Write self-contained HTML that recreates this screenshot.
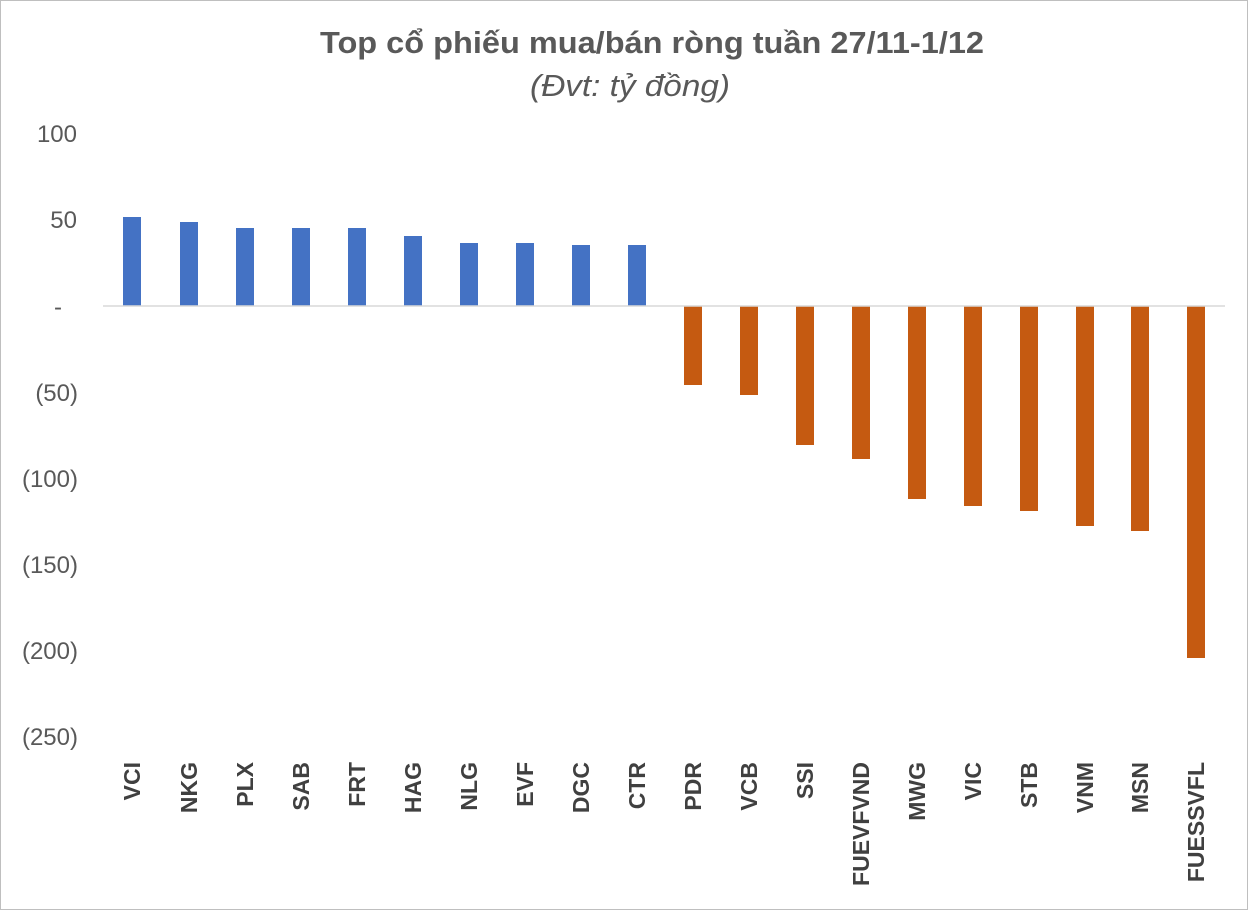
<!DOCTYPE html>
<html><head><meta charset="utf-8"><style>
html,body{margin:0;padding:0;background:#fff;}
</style></head><body>
<svg width="1248" height="910" xmlns="http://www.w3.org/2000/svg" font-family="Liberation Sans, sans-serif">
<rect x="0.5" y="0.5" width="1247" height="909" fill="#fff" stroke="#bfbfbf"/>
<text x="652" y="53" text-anchor="middle" font-size="31" font-weight="bold" fill="#595959" textLength="664" lengthAdjust="spacingAndGlyphs">Top cổ phiếu mua/bán ròng tuần 27/11-1/12</text>
<text x="630" y="96" text-anchor="middle" font-size="31" font-style="italic" fill="#595959" textLength="200" lengthAdjust="spacingAndGlyphs">(Đvt: tỷ đồng)</text>
<g font-size="24" fill="#595959" text-anchor="end">
<text x="77" y="142">100</text>
<text x="77" y="228">50</text>
<text x="62" y="315">-</text>
<text x="78" y="401">(50)</text>
<text x="78" y="487">(100)</text>
<text x="78" y="573">(150)</text>
<text x="78" y="659">(200)</text>
<text x="78" y="745">(250)</text>
</g>
<g fill="#4472C4">
<rect x="123" y="217" width="18" height="89"/>
<rect x="180" y="222" width="18" height="84"/>
<rect x="236" y="228" width="18" height="78"/>
<rect x="292" y="228" width="18" height="78"/>
<rect x="348" y="228" width="18" height="78"/>
<rect x="404" y="236" width="18" height="70"/>
<rect x="460" y="243" width="18" height="63"/>
<rect x="516" y="243" width="18" height="63"/>
<rect x="572" y="245" width="18" height="61"/>
<rect x="628" y="245" width="18" height="61"/>
</g>
<g fill="#C55A11">
<rect x="684" y="306" width="18" height="79"/>
<rect x="740" y="306" width="18" height="89"/>
<rect x="796" y="306" width="18" height="139"/>
<rect x="852" y="306" width="18" height="153"/>
<rect x="908" y="306" width="18" height="193"/>
<rect x="964" y="306" width="18" height="200"/>
<rect x="1020" y="306" width="18" height="205"/>
<rect x="1076" y="306" width="18" height="220"/>
<rect x="1131" y="306" width="18" height="225"/>
<rect x="1187" y="306" width="18" height="352"/>
</g>
<line x1="103" y1="306" x2="1225" y2="306" stroke="#d9d9d9" stroke-width="1.5"/>
<g font-size="23" font-weight="bold" fill="#404040" text-anchor="end">
<text transform="translate(140,762) rotate(-90)">VCI</text>
<text transform="translate(197,762) rotate(-90)">NKG</text>
<text transform="translate(253,762) rotate(-90)">PLX</text>
<text transform="translate(309,762) rotate(-90)">SAB</text>
<text transform="translate(365,762) rotate(-90)">FRT</text>
<text transform="translate(421,762) rotate(-90)">HAG</text>
<text transform="translate(477,762) rotate(-90)">NLG</text>
<text transform="translate(533,762) rotate(-90)">EVF</text>
<text transform="translate(589,762) rotate(-90)">DGC</text>
<text transform="translate(645,762) rotate(-90)">CTR</text>
<text transform="translate(701,762) rotate(-90)">PDR</text>
<text transform="translate(757,762) rotate(-90)">VCB</text>
<text transform="translate(813,762) rotate(-90)">SSI</text>
<text transform="translate(869,762) rotate(-90)">FUEVFVND</text>
<text transform="translate(925,762) rotate(-90)">MWG</text>
<text transform="translate(981,762) rotate(-90)">VIC</text>
<text transform="translate(1037,762) rotate(-90)">STB</text>
<text transform="translate(1093,762) rotate(-90)">VNM</text>
<text transform="translate(1148,762) rotate(-90)">MSN</text>
<text transform="translate(1204,762) rotate(-90)">FUESSVFL</text>
</g>
</svg>
</body></html>
